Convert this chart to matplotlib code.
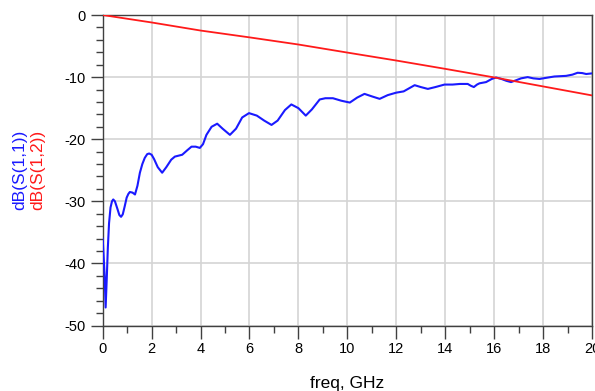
import numpy as np
import matplotlib
matplotlib.use("Agg")
import matplotlib.pyplot as plt
from matplotlib.ticker import MultipleLocator

plt.rcParams['font.family'] = ['Liberation Sans', 'DejaVu Sans']
plt.rcParams['axes.unicode_minus'] = False

# S21 (insertion loss), read at a few frequencies
freq_s12 = [0, 2, 4, 6, 8, 10, 12, 14, 16, 18, 20]
db_s12 = [0.0, -1.2, -2.5, -3.6, -4.75, -6.05, -7.33, -8.67, -10.05, -11.5, -12.95]

# S11 (return loss)
freq_s11 = [0.0, 0.04, 0.08, 0.12, 0.17, 0.21, 0.26, 0.32, 0.38, 0.43, 0.5, 0.6, 0.68, 0.75,
            0.82, 0.9, 0.98, 1.05, 1.11, 1.22, 1.32, 1.42, 1.52, 1.62, 1.72, 1.82, 1.9,
            2.0, 2.1, 2.25, 2.43, 2.6, 2.8, 2.95, 3.25, 3.45, 3.63, 3.8, 3.97, 4.1,
            4.24, 4.45, 4.68, 4.9, 5.2, 5.45, 5.7, 5.98, 6.3, 6.6, 6.9, 7.15, 7.45,
            7.71, 8.0, 8.3, 8.55, 8.87, 9.1, 9.41, 9.75, 10.1, 10.4, 10.7, 11.0,
            11.32, 11.65, 12.0, 12.3, 12.75, 13.0, 13.29, 13.6, 13.97, 14.3, 14.6,
            14.92, 15.05, 15.17, 15.3, 15.4, 15.67, 15.9, 16.08, 16.3, 16.5, 16.69,
            16.9, 17.1, 17.37, 17.6, 17.85, 18.15, 18.46, 18.94, 19.2, 19.41, 19.6,
            19.76, 20.0]
db_s11 = [-36.0, -39.0, -42.0, -47.1, -42.0, -37.5, -33.5, -31.0, -30.0, -29.7, -30.0, -31.2, -32.2, -32.5,
          -32.1, -30.8, -29.4, -28.8, -28.5, -28.6, -28.9, -27.5, -25.4, -24.0, -23.0, -22.4, -22.3,
          -22.5, -23.2, -24.5, -25.4, -24.5, -23.3, -22.8, -22.5, -21.8, -21.2, -21.2, -21.4, -20.8,
          -19.3, -18.0, -17.5, -18.3, -19.3, -18.3, -16.5, -15.8, -16.2, -17.0, -17.7, -17.0, -15.3,
          -14.4, -15.0, -16.2, -15.2, -13.6, -13.4, -13.4, -13.8, -14.1, -13.3, -12.7, -13.1,
          -13.5, -12.9, -12.5, -12.3, -11.3, -11.6, -11.9, -11.6, -11.2, -11.2, -11.1,
          -11.1, -11.4, -11.6, -11.2, -11.0, -10.8, -10.3, -10.06, -10.3, -10.6, -10.8,
          -10.5, -10.2, -10.0, -10.2, -10.3, -10.1, -9.9, -9.8, -9.6, -9.3, -9.35,
          -9.5, -9.4]

fig = plt.figure(figsize=(5.95, 3.91), dpi=100)
ax = fig.add_axes([0.1726, 0.1675, 0.8224, 0.7941])

ax.plot(freq_s11, db_s11, color='#1a1aff', lw=1.5, zorder=3)
ax.plot(freq_s12, db_s12, color='#ff1a1a', lw=1.3, zorder=3)

ax.set_xlim(0, 20)
ax.set_ylim(-50, 0)
ax.xaxis.set_major_locator(MultipleLocator(2))
ax.xaxis.set_minor_locator(MultipleLocator(1))
ax.yaxis.set_major_locator(MultipleLocator(10))
ax.yaxis.set_minor_locator(MultipleLocator(2))

ax.grid(True, which='major', color='#d4d4d4', lw=1.2, zorder=0)
ax.tick_params(which='major', length=9, width=1, color='#404040', labelsize=10.5,
               pad=3)
ax.tick_params(which='minor', length=5, width=1, color='#404040')
for s in ax.spines.values():
    s.set_color('#404040')
    s.set_linewidth(1)

ax.set_xlabel('freq, GHz', fontsize=12.5, labelpad=14)

# stacked coloured y-labels, one per trace
fig.text(20 / 595, 1 - 170 / 391, 'dB(S(1,1))', color='#1a1aff', fontsize=12.5,
         rotation=90, ha='center', va='center')
fig.text(38 / 595, 1 - 170 / 391, 'dB(S(1,2))', color='#ff1a1a', fontsize=12.5,
         rotation=90, ha='center', va='center')

fig.savefig('out.png', dpi=100)
